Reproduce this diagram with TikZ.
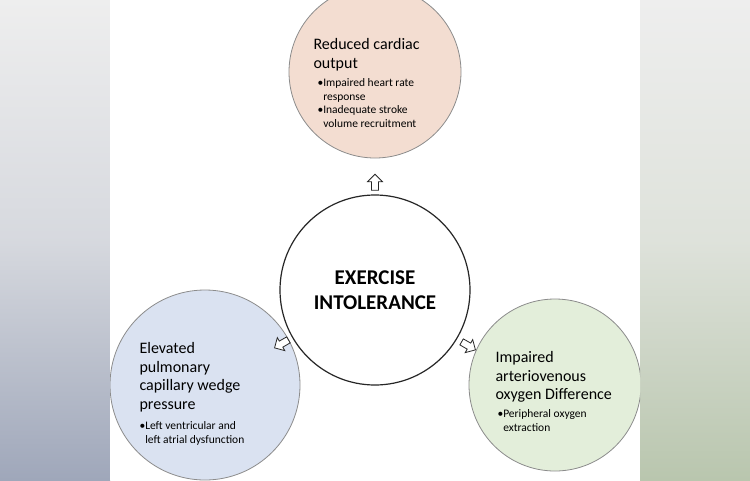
\documentclass[tikz,border=0pt]{standalone}
\usepackage{fontspec}
\setmainfont{Carlito}
\usetikzlibrary{shapes.arrows}
\definecolor{peach}{HTML}{F3DDD1}
\definecolor{lblue}{HTML}{DAE2F1}
\definecolor{lgreen}{HTML}{E3EEDA}
\definecolor{rim}{HTML}{8C8C8C}
\definecolor{sideL}{HTML}{9FA7BA}
\definecolor{sideR}{HTML}{B9C6AE}
\definecolor{sideT}{HTML}{EEEEEE}
\begin{document}
\begin{tikzpicture}[x=1pt,y=-1pt,
  bub/.style={circle,draw=rim,line width=0.8pt,inner sep=0pt},
  harrow/.style={single arrow,draw=black!85,fill=white,line width=0.8pt,minimum height=16pt,minimum width=15pt,single arrow head extend=3pt,single arrow head indent=0pt,inner sep=2.2pt},
  ttl/.style={align=left,font=\fontsize{16}{18.5}\selectfont},
  bl/.style={align=left,font=\fontsize{11.5}{13.5}\selectfont}]
\useasboundingbox (0,0) rectangle (750,480);
\shade[top color=sideT, bottom color=sideL, middle color=sideT!70!sideL] (0,0) rectangle (110,480);
\shade[top color=sideT, bottom color=sideR, middle color=sideT!70!sideR] (640,0) rectangle (750,480);
\fill[white] (110,0) rectangle (640,480);
\begin{scope}
\clip (110,0) rectangle (640,480);
\node[bub,fill=peach,minimum size=172pt] (top) at (375,72) {};
\node[bub,fill=lblue,minimum size=190pt] (left) at (205,385) {};
\node[bub,fill=lgreen,minimum size=172pt] (right) at (555,385) {};
\end{scope}
\node[bub,draw=black!85,line width=1.2pt,minimum size=190pt] (c) at (375,290) {};
\node[font=\bfseries\fontsize{21}{25}\selectfont,align=center] at (c) {EXERCISE\\INTOLERANCE};
\node[ttl,anchor=north west] (t1) at (310,35) {Reduced cardiac\\output};
\node[bl,anchor=north west] (t2) at (314,75) {•Impaired heart rate\\\phantom{•}response\\•Inadequate stroke\\\phantom{•}volume recruitment};
\node[ttl,anchor=north west] (l1) at (136,339) {Elevated\\pulmonary\\capillary wedge\\pressure};
\node[bl,anchor=north west] (l2) at (136,418) {•Left ventricular and\\\phantom{•}left atrial dysfunction};
\node[ttl,anchor=north west] (r1) at (492,348) {Impaired\\arteriovenous\\oxygen Difference};
\node[bl,anchor=north west] (r2) at (494,406) {•Peripheral oxygen\\\phantom{•}extraction};
\node[harrow,rotate=90] (a1) at (375,184) {};
\node[harrow,rotate=-150] (a2) at (283,343) {};
\node[harrow,rotate=-30] (a3) at (467,345) {};
\end{tikzpicture}
\end{document}
